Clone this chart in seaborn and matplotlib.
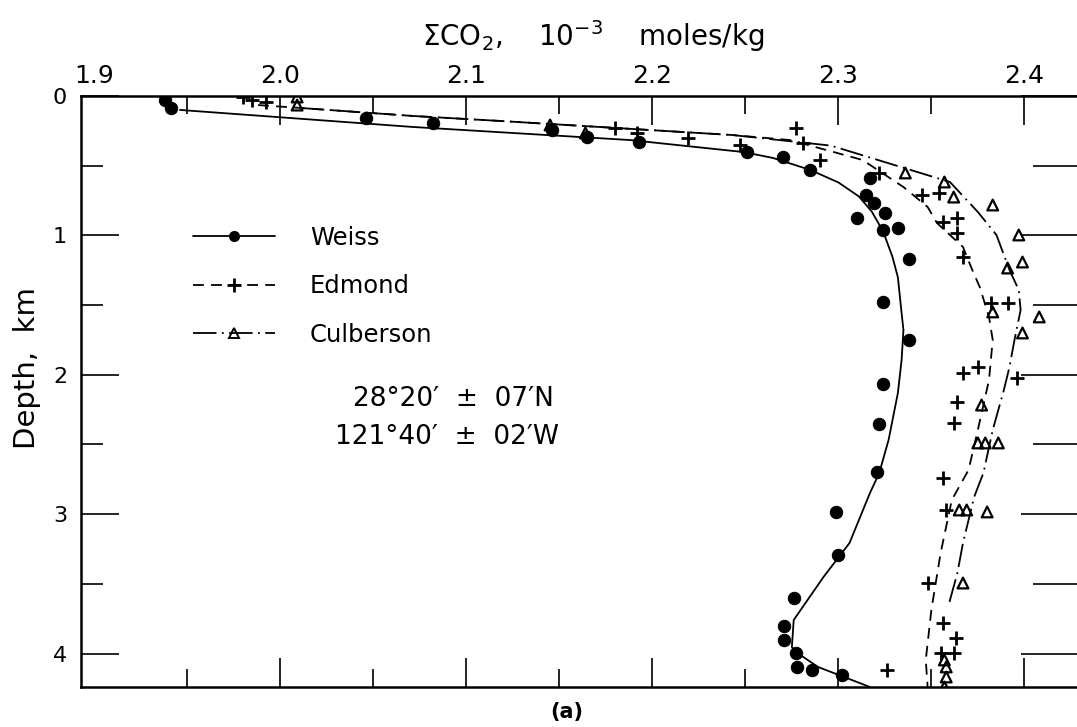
import matplotlib
matplotlib.use("Agg")
import matplotlib.pyplot as plt
from matplotlib.lines import Line2D
from matplotlib.ticker import MultipleLocator
import seaborn as sns

# --- measured samples: sum CO2 (1e-3 mol/kg) vs depth (km) ---
weiss_co2 = [1.938, 1.941, 2.046, 2.082, 2.146, 2.165, 2.193, 2.251, 2.270, 2.285,
             2.317, 2.315, 2.319, 2.310, 2.325, 2.332, 2.324, 2.338, 2.324, 2.338,
             2.324, 2.322, 2.321, 2.299, 2.300, 2.276, 2.271, 2.271, 2.277, 2.278,
             2.286, 2.302]
weiss_depth = [0.029, 0.086, 0.158, 0.194, 0.244, 0.294, 0.330, 0.402, 0.438, 0.531,
               0.588, 0.710, 0.768, 0.875, 0.839, 0.947, 0.961, 1.169, 1.478, 1.750,
               2.066, 2.353, 2.697, 2.984, 3.293, 3.601, 3.802, 3.902, 3.996, 4.096,
               4.118, 4.154]

edmond_co2 = [1.980, 1.985, 1.992, 2.180, 2.192, 2.219, 2.247, 2.277, 2.281, 2.290,
              2.322, 2.345, 2.354, 2.356, 2.364, 2.364, 2.367, 2.382, 2.391, 2.375,
              2.367, 2.396, 2.364, 2.362, 2.356, 2.358, 2.348, 2.356, 2.363, 2.355,
              2.362, 2.326]
edmond_depth = [0.007, 0.029, 0.043, 0.230, 0.265, 0.301, 0.352, 0.230, 0.337, 0.459,
                0.552, 0.710, 0.696, 0.904, 0.875, 0.983, 1.155, 1.485, 1.485, 1.944,
                1.987, 2.023, 2.195, 2.346, 2.740, 2.970, 3.494, 3.780, 3.888, 3.996,
                3.996, 4.118]

culb_co2 = [2.009, 2.009, 2.145, 2.164, 2.336, 2.357, 2.362, 2.383, 2.397, 2.391,
            2.399, 2.383, 2.408, 2.399, 2.377, 2.375, 2.379, 2.386, 2.365, 2.369,
            2.380, 2.367, 2.357, 2.358, 2.358, 2.357]
culb_depth = [0.007, 0.065, 0.208, 0.265, 0.552, 0.617, 0.725, 0.782, 0.997, 1.234,
              1.191, 1.549, 1.585, 1.700, 2.217, 2.489, 2.489, 2.489, 2.970, 2.970,
              2.984, 3.494, 4.046, 4.096, 4.168, 4.240]

# --- hand-drawn profile curves ---
weiss_fit_co2 = [1.946, 2.071, 2.188, 2.249, 2.265, 2.285, 2.300, 2.311, 2.318, 2.324,
                 2.329, 2.332, 2.334, 2.335, 2.334, 2.332, 2.327, 2.322, 2.317, 2.306,
                 2.292, 2.276, 2.275, 2.278, 2.289, 2.303, 2.317]
weiss_fit_depth = [0.100, 0.222, 0.316, 0.402, 0.445, 0.531, 0.620, 0.720, 0.830, 0.970,
                   1.150, 1.300, 1.557, 1.679, 1.894, 2.131, 2.468, 2.704, 2.848, 3.207,
                   3.451, 3.759, 3.953, 3.996, 4.096, 4.168, 4.240]

edmond_fit_co2 = [1.988, 2.011, 2.071, 2.118, 2.243, 2.274, 2.313, 2.335, 2.348, 2.353,
                  2.367, 2.372, 2.376, 2.381, 2.383, 2.381, 2.375, 2.370, 2.361, 2.355,
                  2.350, 2.347, 2.348]
edmond_fit_depth = [0.065, 0.086, 0.143, 0.179, 0.280, 0.316, 0.459, 0.653, 0.796, 0.911,
                    1.083, 1.248, 1.370, 1.585, 1.750, 2.037, 2.396, 2.683, 2.898, 3.278,
                    3.687, 4.046, 4.240]

culb_fit_co2 = [2.011, 2.071, 2.118, 2.243, 2.296, 2.360, 2.375, 2.385, 2.392, 2.397,
                2.398, 2.395, 2.392, 2.389, 2.383, 2.378, 2.373, 2.367, 2.364, 2.359]
culb_fit_depth = [0.086, 0.143, 0.179, 0.280, 0.356, 0.617, 0.832, 0.997, 1.248, 1.392,
                  1.535, 1.729, 1.944, 2.109, 2.396, 2.704, 2.877, 3.207, 3.422, 3.666]

x_ticks = [1.9, 2.0, 2.1, 2.2, 2.3, 2.4]
x_tick_labels = ["1.9", "2.0", "2.1", "2.2", "2.3", "2.4"]
y_ticks = [0, 1, 2, 3, 4]

sns.set_theme(style="white")
plt.rcParams["font.family"] = ["DejaVu Sans"]
plt.rcParams["text.color"] = "black"
plt.rcParams["axes.labelcolor"] = "black"
plt.rcParams["xtick.color"] = "black"
plt.rcParams["ytick.color"] = "black"

W, H = 1077, 727
fig = plt.figure(figsize=(W / 100, H / 100), dpi=100)
ax = fig.add_axes([81 / W, 40 / H, (1090 - 81) / W, (687 - 96) / H])

dash_edm = (0, (6, 4))
dash_cul = (0, (13, 3, 1, 3))

sns.lineplot(x=weiss_fit_co2, y=weiss_fit_depth, sort=False, estimator=None,
             color="black", lw=1.3, ax=ax)
sns.lineplot(x=edmond_fit_co2, y=edmond_fit_depth, sort=False, estimator=None,
             color="black", lw=1.3, linestyle=dash_edm, ax=ax)
sns.lineplot(x=culb_fit_co2, y=culb_fit_depth, sort=False, estimator=None,
             color="black", lw=1.3, linestyle=dash_cul, ax=ax)

sns.scatterplot(x=weiss_co2, y=weiss_depth, marker="o", s=80, color="black",
                edgecolor="black", ax=ax, zorder=3)
sns.scatterplot(x=edmond_co2, y=edmond_depth, marker="+", s=110, color="black",
                linewidth=2, ax=ax, zorder=3)
sns.scatterplot(x=culb_co2, y=culb_depth, marker="^", s=60, facecolor="none",
                edgecolor="black", linewidth=1.6, ax=ax, zorder=3)

ax.set_xlim(1.8928, 2.4353)
ax.set_ylim(4.24, 0)

ax.xaxis.tick_top()
ax.xaxis.set_label_position("top")
ax.set_xticks(x_ticks)
ax.set_xticklabels(x_tick_labels)
ax.xaxis.set_minor_locator(MultipleLocator(0.05))
ax.set_yticks(y_ticks)
ax.yaxis.set_minor_locator(MultipleLocator(0.5))
ax.tick_params(axis="x", which="both", direction="in", top=True, bottom=True,
               labeltop=True, labelbottom=False, width=1.2, labelsize=18, pad=6)
ax.tick_params(axis="x", which="major", length=21)
ax.tick_params(axis="x", which="minor", length=13)
ax.tick_params(axis="y", which="both", direction="in", left=True, right=False,
               width=1.2, labelsize=16, pad=10)
ax.tick_params(axis="y", which="major", length=27)
ax.tick_params(axis="y", which="minor", length=16)

# the 1.9 tick sits on the left spine, so its marks are not drawn
first = ax.xaxis.get_major_ticks()[0]
first.tick1line.set_visible(False)
first.tick2line.set_visible(False)

sec = ax.secondary_yaxis("right")
sec.set_yticks(y_ticks)
sec.yaxis.set_minor_locator(MultipleLocator(0.5))
sec.tick_params(which="both", direction="in", labelright=False, width=1.2)
sec.tick_params(which="major", length=50)
sec.tick_params(which="minor", length=41)

for side in ["top", "bottom", "left", "right"]:
    ax.spines[side].set_color("black")
    ax.spines[side].set_linewidth(1.8)
sec.spines["right"].set_linewidth(1.8)

ax.set_xlabel(r"$\Sigma$CO$_2$,    10$^{-3}$    moles/kg", fontsize=20, labelpad=6)
ax.xaxis.set_label_coords((593 - 81) / (1090 - 81), 1 + (96 - 36) / 591)
ax.xaxis.label.set_va("center")
ax.set_ylabel("Depth,  km", fontsize=21)
ax.yaxis.set_label_coords((27 - 81) / (1090 - 81), (687 - 368) / 591)
ax.yaxis.label.set_va("center")

handles = [
    Line2D([], [], color="black", lw=1.3, marker="o", markersize=7),
    Line2D([], [], color="black", lw=1.3, linestyle=dash_edm, marker="+",
           markersize=10, markeredgewidth=2),
    Line2D([], [], color="black", lw=1.3, linestyle=dash_cul, marker="^",
           markersize=7, markerfacecolor="none", markeredgewidth=1.4),
]
ax.legend(handles, ["Weiss", "Edmond", "Culberson"], loc="upper left",
          bbox_to_anchor=(193 / W, 1 - 226 / H), bbox_transform=fig.transFigure,
          frameon=False, fontsize=17.5, numpoints=1, handlelength=3.37,
          handletextpad=1.44, labelspacing=1.0, borderpad=0, borderaxespad=0)

ax.text(453 / W, 1 - 399 / H, "28°20′  ±  07′N", transform=fig.transFigure,
        ha="center", va="center", fontsize=19)
ax.text(447 / W, 1 - 437 / H, "121°40′  ±  02′W", transform=fig.transFigure,
        ha="center", va="center", fontsize=19)
fig.text(567 / W, 1 - 712 / H, "(a)", ha="center", va="center", fontsize=15,
         fontweight="bold")

fig.savefig("out.png", dpi=100, facecolor="white")
